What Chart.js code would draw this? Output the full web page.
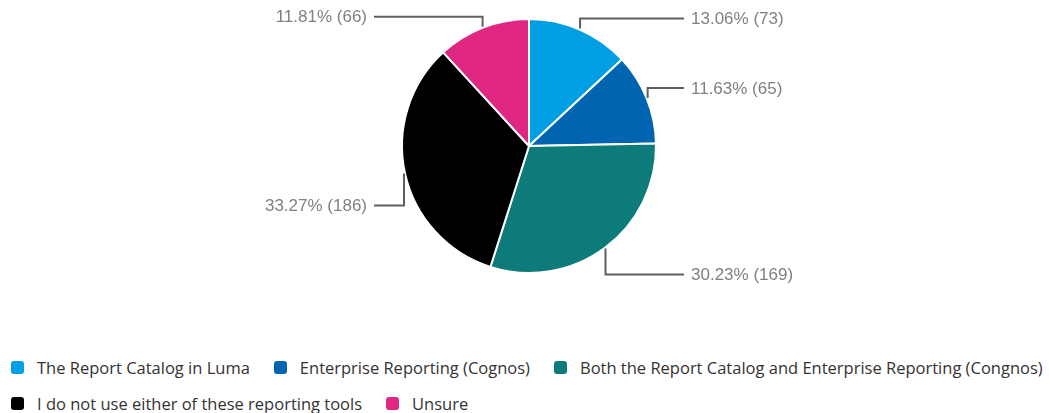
<!DOCTYPE html>
<html>
<head>
<meta charset="utf-8">
<title>Reporting tools</title>
<script src="https://cdn.jsdelivr.net/npm/chart.js@4"></script>
<style>
  html, body { margin: 0; padding: 0; background: #fff; }
  #wrap { position: relative; width: 1049px; height: 413px; overflow: hidden; }
  #plot { position: absolute; left: 0; top: 0; width: 1049px; height: 340px; }
  #legend {
    position: absolute; left: 11px; top: 355px; width: 1038px;
    display: flex; flex-wrap: wrap; column-gap: 24px; row-gap: 12px;
    font-family: "Open Sans", sans-serif; font-size: 16.5px; color: #333;
  }
  .item { display: flex; align-items: center; height: 24px; white-space: nowrap; }
  .swatch { width: 13px; height: 13px; border-radius: 3px; margin-right: 13px; flex: none; }
</style>
</head>
<body>
<div id="wrap">
  <div id="plot"><canvas id="pie"></canvas></div>
  <div id="legend"></div>
</div>
<script>
// answers and how many respondents picked each
const answers = [
  "The Report Catalog in Luma",
  "Enterprise Reporting (Cognos)",
  "Both the Report Catalog and Enterprise Reporting (Congnos)",
  "I do not use either of these reporting tools",
  "Unsure"
];
const counts = [73, 65, 169, 186, 66];
const sliceColors = ["#009fe3", "#0064b0", "#0e7b7b", "#000000", "#df2680"];

const total = counts.reduce((a, b) => a + b, 0);

// elbow leader lines with "pct% (n)" labels
const leaderLabels = {
  id: "leaderLabels",
  afterDatasetsDraw(chart, args, opts) {
    const { ctx } = chart;
    const meta = chart.getDatasetMeta(0);
    ctx.save();
    ctx.font = opts.font;
    ctx.textBaseline = "middle";
    meta.data.forEach((arc, i) => {
      const p = arc.getProps(["x", "y", "startAngle", "endAngle", "outerRadius"], true);
      const mid = (p.startAngle + p.endAngle) / 2;
      const right = Math.cos(mid) >= 0;
      const ex = p.x + Math.cos(mid) * (p.outerRadius + 1);
      const ey = p.y + Math.sin(mid) * (p.outerRadius + 1);
      const ly = ey + opts.drop[i];
      const lx = p.x + (right ? 1 : -1) * opts.reach;

      ctx.beginPath();
      ctx.moveTo(ex, ey);
      ctx.lineTo(ex, ly);
      ctx.lineTo(lx, ly);
      ctx.strokeStyle = opts.lineColor;
      ctx.lineWidth = 2;
      ctx.stroke();

      const val = chart.data.datasets[0].data[i];
      const text = (val / total * 100).toFixed(2) + "% (" + val + ")";
      ctx.fillStyle = opts.color;
      ctx.textAlign = right ? "left" : "right";
      ctx.fillText(text, lx + (right ? 7 : -7), ly + 1);
    });
    ctx.restore();
  }
};

new Chart(document.getElementById("pie"), {
  type: "pie",
  data: {
    labels: answers,
    datasets: [{
      data: counts,
      backgroundColor: sliceColors,
      borderColor: "#ffffff",
      borderWidth: 2
    }]
  },
  options: {
    responsive: true,
    maintainAspectRatio: false,
    animation: false,
    layout: { padding: { top: 18, bottom: 66, left: 9, right: 0 } },
    plugins: {
      legend: { display: false },
      tooltip: { enabled: false },
      leaderLabels: {
        font: "17px 'Liberation Sans', Arial, sans-serif",
        color: "#808080",
        lineColor: "#5f5f5f",
        reach: 155,
        drop: [-10, -10, 26, 32, -10]
      }
    }
  },
  plugins: [leaderLabels]
});

// legend under the pie
const legend = document.getElementById("legend");
answers.forEach((name, i) => {
  const item = document.createElement("div");
  item.className = "item";
  const sw = document.createElement("span");
  sw.className = "swatch";
  sw.style.background = sliceColors[i];
  const label = document.createElement("span");
  label.textContent = name;
  item.appendChild(sw);
  item.appendChild(label);
  legend.appendChild(item);
});
</script>
</body>
</html>
